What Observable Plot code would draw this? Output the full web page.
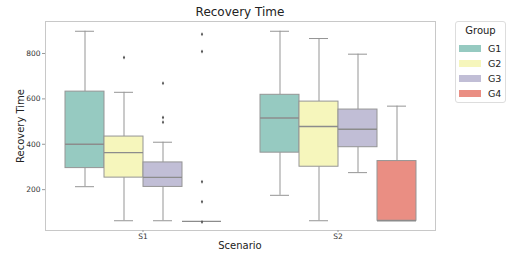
<!DOCTYPE html>
<html>
<head>
<meta charset="utf-8">
<script src="https://cdn.jsdelivr.net/npm/d3@7"></script>
<script src="https://cdn.jsdelivr.net/npm/@observablehq/plot@0.6"></script>
<style>
  body { margin: 0; background: #fff; font-family: "DejaVu Sans", sans-serif; }
  #wrap { position: relative; width: 508px; height: 255px; overflow: hidden; }
  #chart { position: absolute; left: 0; top: 0; }
  .title { position: absolute; left: 45px; width: 390px; top: 5px; text-align: center; font-size: 12px; color: #222; }
  .xlab { position: absolute; left: 45px; width: 390px; top: 240px; text-align: center; font-size: 10px; color: #222; }
  .ylab { position: absolute; left: 20px; top: 126px; font-size: 10px; color: #222; transform: translate(-50%, -50%) rotate(-90deg); white-space: nowrap; }
  .legend { position: absolute; left: 455px; top: 21px; width: 49px; height: 80px; border: 1px solid #ddd; border-radius: 3px; font-size: 9.5px; color: #222; }
  .legend .lt { position: absolute; top: 3px; width: 100%; text-align: center; font-size: 10px; }
  .legend .row { position: absolute; left: 3px; height: 12px; display: flex; align-items: center; }
  .legend .sw { width: 22px; height: 7px; margin-right: 7px; }
</style>
</head>
<body>
<div id="wrap">
  <div id="chart"></div>
  <div class="title">Recovery Time</div>
  <div class="ylab">Recovery Time</div>
  <div class="xlab">Scenario</div>
  <div class="legend" id="legend"><div class="lt">Group</div></div>
</div>
<script>
const scenarios = ["S1", "S2"];
const groups = ["G1", "G2", "G3", "G4"];
const colors = ["#96cac1", "#f6f6bc", "#c1bed6", "#ea8e83"];

// box statistics, order: S1 G1..G4, S2 G1..G4
const boxScenario = ["S1", "S1", "S1", "S1", "S2", "S2", "S2", "S2"];
const boxGroup    = ["G1", "G2", "G3", "G4", "G1", "G2", "G3", "G4"];
const whiskerLow  = [213, 63, 63, 60, 175, 63, 275, 63];
const q1          = [295, 253, 212, 60, 363, 301, 387, 63];
const median      = [400, 363, 254, 60, 516, 478, 466, 63];
const q3          = [632, 434, 320, 60, 618, 588, 553, 326];
const whiskerHigh = [898, 629, 409, 60, 898, 866, 797, 568];

// outliers
const outScenario = ["S1", "S1", "S1", "S1", "S1", "S1", "S1", "S1", "S1"];
const outGroup    = ["G2", "G3", "G3", "G3", "G4", "G4", "G4", "G4", "G4"];
const outValue    = [782, 669, 518, 497, 885, 809, 235, 147, 57];

const boxes = boxScenario.map((s, i) => ({
  scenario: s, group: boxGroup[i], lo: whiskerLow[i], q1: q1[i],
  med: median[i], q3: q3[i], hi: whiskerHigh[i]
}));
const outliers = outValue.map((v, i) => ({ scenario: outScenario[i], group: outGroup[i], value: v }));

const line = "#959595";
const chart = Plot.plot({
  width: 508, height: 255,
  marginLeft: 45, marginRight: 73, marginTop: 21, marginBottom: 25,
  style: { fontFamily: "DejaVu Sans, sans-serif", background: "transparent" },
  fx: { domain: scenarios, padding: 0, label: null },
  x: { domain: groups, paddingInner: 0, paddingOuter: 0.5, axis: null },
  y: { domain: [20, 941] },
  color: { domain: groups, range: colors },
  marks: [
    Plot.frame({ facet: "super", stroke: "#c8c8c8" }),
    Plot.axisY({ ticks: [200, 400, 600, 800], tickSize: 3, tickPadding: 2, fontSize: 7.5, label: null, stroke: "#999", color: "#333" }),
    Plot.axisFx({ anchor: "bottom", tickSize: 2, tickPadding: 1, fontSize: 7.5, label: null, stroke: "#999", color: "#333" }),
    Plot.ruleX(boxes.filter(d => d.lo < d.q1), { fx: "scenario", x: "group", y1: "lo", y2: "q1", stroke: line }),
    Plot.ruleX(boxes.filter(d => d.hi > d.q3), { fx: "scenario", x: "group", y1: "q3", y2: "hi", stroke: line }),
    Plot.tickY(boxes.filter(d => d.lo < d.q1), { fx: "scenario", x: "group", y: "lo", stroke: line, insetLeft: 10, insetRight: 10 }),
    Plot.tickY(boxes.filter(d => d.hi > d.q3), { fx: "scenario", x: "group", y: "hi", stroke: line, insetLeft: 10, insetRight: 10 }),
    Plot.barY(boxes, { fx: "scenario", x: "group", y1: "q1", y2: "q3", fill: "group", stroke: line, strokeWidth: 1 }),
    Plot.tickY(boxes, { fx: "scenario", x: "group", y: "med", stroke: "#8c8c8c", strokeWidth: 1.4 }),
    Plot.dot(outliers, { fx: "scenario", x: "group", y: "value", symbol: "diamond", r: 1.2, fill: "#555", stroke: null })
  ]
});
document.getElementById("chart").appendChild(chart);

const legend = document.getElementById("legend");
groups.forEach((g, i) => {
  const row = document.createElement("div");
  row.className = "row";
  row.style.top = (20 + i * 15.2) + "px";
  const sw = document.createElement("div");
  sw.className = "sw";
  sw.style.background = colors[i];
  const t = document.createElement("span");
  t.textContent = g;
  row.appendChild(sw); row.appendChild(t);
  legend.appendChild(row);
});
</script>
</body>
</html>
